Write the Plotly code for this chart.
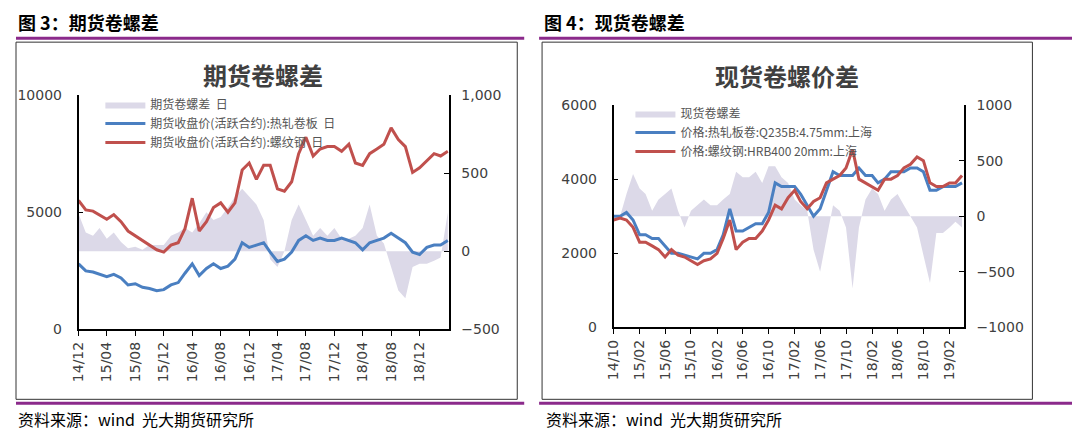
import plotly.graph_objects as go
import pandas as pd

# ---- Figure 3: futures ----
f_dates = pd.date_range("2014-12-01", periods=53, freq="MS")
f_rebar = [5500,5100,5050,4900,4700,4900,4600,4200,4000,3800,3600,3400,3300,
           3600,3700,4300,5600,4200,4600,5200,5400,5000,5400,6800,7100,
           6400,7000,7000,6000,5900,6300,7500,8200,7400,7700,7800,7800,
           7600,7900,7100,7000,7500,7700,7900,8600,8100,7800,6700,6900,
           7200,7500,7400,7600]
f_hrc = [2800,2500,2450,2350,2250,2350,2200,1900,1950,1800,1750,1650,1700,
         1900,2000,2400,2800,2300,2600,2800,2600,2700,3000,3700,3500,
         3600,3700,3300,2900,3000,3300,3800,4000,3800,3900,3800,3800,
         3900,3800,3700,3400,3700,3800,3900,4100,3900,3700,3300,3200,
         3500,3600,3600,3800]
f_spread = [240,120,100,150,80,120,60,20,30,10,40,40,40,
            100,120,150,120,180,250,200,220,280,350,400,
            350,300,200,-50,-100,0,200,300,200,100,150,100,
            150,80,80,100,150,300,100,50,-100,-250,-300,-100,
            -80,-80,-60,-40,250]
f_ticks = ["2014-12-01","2015-04-01","2015-08-01","2015-12-01","2016-04-01","2016-08-01",
           "2016-12-01","2017-04-01","2017-08-01","2017-12-01","2018-04-01","2018-08-01","2018-12-01"]
f_ticktext = ["14/12","15/04","15/08","15/12","16/04","16/08","16/12","17/04","17/08","17/12","18/04","18/08","18/12"]

# ---- Figure 4: spot ----
s_dates = pd.date_range("2014-10-01", periods=55, freq="MS")
s_hrc = [3000,3000,3100,
         2900,2500,2500,2400,2400,2200,2000,2000,1950,1900,1850,2000,
         2000,2100,2500,3200,2600,2600,2700,2800,2800,3100,3900,3800,
         3800,3800,3600,3300,3000,3200,3700,4200,4100,4100,4100,4300,
         4100,4100,3900,4000,4200,4200,4200,4300,4300,4200,3700,3700,
         3800,3800,3800,3900]
s_rebar = [2900,2950,2900,
           2700,2300,2300,2200,2100,1900,2100,1950,1900,1800,1700,1800,
           1850,2000,2400,2900,2100,2300,2400,2400,2600,2900,3300,3200,
           3500,3700,3400,3200,3400,3500,3900,4000,4100,4300,4800,4000,
           3900,3800,3700,4000,4000,4100,4300,4400,4600,4500,3900,3800,
           3800,3900,3900,4100]
s_spread = [0,0,200,
            380,250,200,50,150,200,250,50,-100,50,100,150,
            100,100,150,200,400,350,350,400,300,450,450,350,
            300,150,100,50,-300,-500,-200,100,50,-100,-650,-100,
            150,250,200,50,150,200,100,0,-100,-350,-600,-150,
            -150,-100,-50,-100]
s_ticks = ["2014-10-01","2015-02-01","2015-06-01","2015-10-01","2016-02-01","2016-06-01",
           "2016-10-01","2017-02-01","2017-06-01","2017-10-01","2018-02-01","2018-06-01",
           "2018-10-01","2019-02-01"]
s_ticktext = ["14/10","15/02","15/06","15/10","16/02","16/06","16/10","17/02","17/06",
              "17/10","18/02","18/06","18/10","19/02"]

FONT = "Noto Sans CJK SC"
BLUE = "#4a7fc1"; RED = "#c0504d"; AREA = "#dcd9e8"
W, H = 1080, 438

def PX(x):
    return max(0.0, (x - 13) / W)

def PY(y):
    yy = y - 13 * (402 - y) / 366.0
    return 1 - yy / H

fig = go.Figure()
fig.add_trace(go.Scatter(x=f_dates, y=f_spread, xaxis="x", yaxis="y", fill="tozeroy",
                         mode="lines", line=dict(width=0), fillcolor=AREA,
                         name="期货卷螺差  日", legend="legend"))
fig.add_trace(go.Scatter(x=f_dates, y=f_hrc, xaxis="x", yaxis="y2", mode="lines",
                         line=dict(color=BLUE, width=3), name="期货收盘价(活跃合约):热轧卷板  日", legend="legend"))
fig.add_trace(go.Scatter(x=f_dates, y=f_rebar, xaxis="x", yaxis="y2", mode="lines",
                         line=dict(color=RED, width=3), name="期货收盘价(活跃合约):螺纹钢  日", legend="legend"))

fig.add_trace(go.Scatter(x=s_dates, y=s_spread, xaxis="x2", yaxis="y3", fill="tozeroy",
                         mode="lines", line=dict(width=0), fillcolor=AREA,
                         name="现货卷螺差", legend="legend2"))
fig.add_trace(go.Scatter(x=s_dates, y=s_hrc, xaxis="x2", yaxis="y4", mode="lines",
                         line=dict(color=BLUE, width=3), name="价格:热轧板卷:Q235B:4.75mm:上海", legend="legend2"))
fig.add_trace(go.Scatter(x=s_dates, y=s_rebar, xaxis="x2", yaxis="y4", mode="lines",
                         line=dict(color=RED, width=3), name="价格:螺纹钢:HRB400 20mm:上海", legend="legend2"))

tf = dict(size=14, color="#404040", family="DejaVu Sans")
xcommon = dict(showline=True, linecolor="black", linewidth=1.5, ticks="outside", ticklen=5,
               tickcolor="black", tickangle=-90, showgrid=False, zeroline=False, tickfont=tf)
ycommon = dict(showline=True, linecolor="black", linewidth=1.5, ticks="inside", ticklen=5,
               tickcolor="black", showgrid=False, zeroline=False, tickfont=tf)

xd1 = [PX(76), PX(449)]; yd1 = [PY(328), PY(93)]
xd2 = [PX(615), PX(968)]; yd2 = [PY(326), PY(103)]

fig.update_layout(
    width=W, height=H, margin=dict(l=0, r=0, t=0, b=0),
    paper_bgcolor="white", plot_bgcolor="white", font=dict(family=FONT),
    xaxis=dict(domain=xd1, anchor="y", range=["2014-12-01", "2019-04-05"],
               tickvals=f_ticks, ticktext=f_ticktext, **xcommon),
    yaxis=dict(domain=yd1, anchor="x", side="right", range=[-500, 1000],
               tickvals=[-500, 0, 500, 1000], tickformat=",", ticklabelstandoff=8, **ycommon),
    yaxis2=dict(overlaying="y", anchor="x", side="left", range=[0, 10000],
                tickvals=[0, 5000, 10000], tickformat="d", ticklabelstandoff=12, **ycommon),
    xaxis2=dict(domain=xd2, anchor="y3", range=["2014-10-01", "2019-04-10"],
                tickvals=s_ticks, ticktext=s_ticktext, **xcommon),
    yaxis3=dict(domain=yd2, anchor="x2", side="right", range=[-1000, 1000],
                tickvals=[-1000, -500, 0, 500, 1000], tickformat="d", ticklabelstandoff=8, **ycommon),
    yaxis4=dict(overlaying="y3", anchor="x2", side="left", range=[0, 6000],
                tickvals=[0, 2000, 4000, 6000], tickformat="d", ticklabelstandoff=12, **ycommon),
    legend=dict(x=PX(98), y=PY(88), xanchor="left", yanchor="top", bgcolor="rgba(0,0,0,0)",
                font=dict(size=12, color="#555555", family=FONT), tracegroupgap=0,
                itemwidth=40),
    legend2=dict(x=PX(632), y=PY(97), xanchor="left", yanchor="top", bgcolor="rgba(0,0,0,0)",
                 font=dict(size=12, color="#555555", family=FONT), tracegroupgap=0,
                 itemwidth=40),
    showlegend=True,
)

PURPLE = "#8b2a8b"
shapes = [
    dict(type="line", x0=PX(0), x1=PX(525), y0=PY(36), y1=PY(36), line=dict(color=PURPLE, width=3)),
    dict(type="line", x0=PX(540), x1=1, y0=PY(36), y1=PY(36), line=dict(color=PURPLE, width=3)),
    dict(type="line", x0=PX(0), x1=PX(525), y0=PY(402), y1=PY(402), line=dict(color=PURPLE, width=3)),
    dict(type="line", x0=PX(540), x1=1, y0=PY(402), y1=PY(402), line=dict(color=PURPLE, width=3)),
    dict(type="rect", x0=PX(8), x1=PX(518), y0=PY(398), y1=PY(40), line=dict(color="#333333", width=1)),
    dict(type="rect", x0=PX(543), x1=PX(1037), y0=PY(398), y1=PY(40), line=dict(color="#333333", width=1)),
]
for s in shapes:
    s.update(xref="paper", yref="paper")
fig.update_layout(shapes=shapes)

ann = [
    dict(text="<b>图 3：期货卷螺差</b>", x=PX(4), y=PY(20), xanchor="left", yanchor="middle",
         font=dict(size=18, color="black", family=FONT)),
    dict(text="<b>图 4：现货卷螺差</b>", x=PX(543), y=PY(20), xanchor="left", yanchor="middle",
         font=dict(size=18, color="black", family=FONT)),
    dict(text="<b>期货卷螺差</b>", x=PX(262), y=PY(72), xanchor="center", yanchor="middle",
         font=dict(size=24, color="#404040", family=FONT)),
    dict(text="<b>现货卷螺价差</b>", x=PX(790), y=PY(73), xanchor="center", yanchor="middle",
         font=dict(size=24, color="#404040", family=FONT)),
    dict(text="资料来源：wind  光大期货研究所", x=PX(4), y=PY(418), xanchor="left", yanchor="middle",
         font=dict(size=16, color="black", family=FONT)),
    dict(text="资料来源：wind  光大期货研究所", x=PX(545), y=PY(418), xanchor="left", yanchor="middle",
         font=dict(size=16, color="black", family=FONT)),
]
for a in ann:
    a.update(xref="paper", yref="paper", showarrow=False)
fig.update_layout(annotations=ann)

fig.write_html("out.html")
